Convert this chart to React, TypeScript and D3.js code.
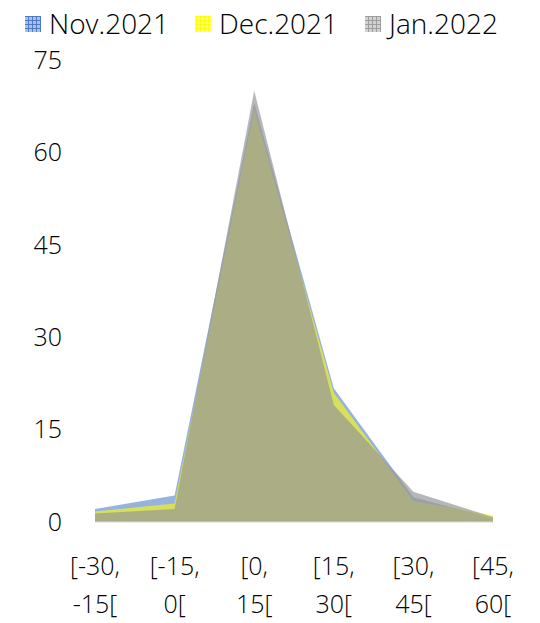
import React from "react";
import * as d3 from "d3";

const categories = ["[-30,|-15[", "[-15,|0[", "[0,|15[", "[15,|30[", "[30,|45[", "[45,|60["];
const seriesNames = ["Nov.2021", "Dec.2021", "Jan.2022"];
const nov2021 = [2.1, 4.3, 68, 21.7, 4.0, 0.6];
const dec2021 = [1.7, 3.0, 67, 21.0, 3.4, 1.1];
const jan2022 = [1.4, 2.1, 70, 19.0, 4.9, 0.8];
const yTicks = [0, 15, 30, 45, 60, 75];
const colors = ["#4472C4", "#FFFF00", "#999999"];
const alphas = [0.55, 0.6, 0.7];

export default function App() {
  const W = 540, H = 623;
  const x = d3.scalePoint<string>().domain(categories).range([95, 493]);
  const y = d3.scaleLinear().domain([0, 75]).range([522, 60]);
  const data = [nov2021, dec2021, jan2022];
  const area = d3
    .area<number>()
    .x((_, i) => x(categories[i]) as number)
    .y0(y(0))
    .y1((d) => y(d));
  const font = "'Open Sans', 'Segoe UI', sans-serif";
  const legendX = [25, 195, 365];
  return (
    <svg width={W} height={H} style={{ position: "absolute", left: 0, top: 0, background: "#fff" }}>
      <defs>
        {colors.map((c, i) => (
          <pattern key={i} id={`pat${i}`} width={4} height={4} patternUnits="userSpaceOnUse">
            <rect width={4} height={4} fill={c} fillOpacity={0.45} />
            <path d="M0,0.5H4M0.5,0V4" stroke={c} strokeWidth={1} strokeOpacity={0.9} />
          </pattern>
        ))}
      </defs>
      {data.map((s, i) => (
        <path key={i} d={area(s) || ""} fill={colors[i]} fillOpacity={alphas[i]} />
      ))}
      <line x1={95} x2={493} y1={y(0)} y2={y(0)} stroke="#d9d9d9" strokeWidth={1} />
      {yTicks.map((t) => (
        <text key={t} x={62} y={y(t)} dy="0.35em" textAnchor="end" fontFamily={font} fontWeight={300} fontSize={25} fill="#000">
          {t}
        </text>
      ))}
      {categories.map((c) => {
        const [a, b] = c.split("|");
        return (
          <text key={c} x={x(c)} textAnchor="middle" fontFamily={font} fontWeight={300} fontSize={25} fill="#000">
            <tspan x={x(c)} y={575}>{a}</tspan>
            <tspan x={x(c)} y={613}>{b}</tspan>
          </text>
        );
      })}
      {seriesNames.map((n, i) => (
        <g key={n}>
          <rect x={legendX[i]} y={16} width={16} height={16} fill={`url(#pat${i})`} />
          <text x={legendX[i] + 24} y={24} dy="0.35em" fontFamily={font} fontWeight={300} fontSize={28} fill="#000">
            {n}
          </text>
        </g>
      ))}
    </svg>
  );
}
